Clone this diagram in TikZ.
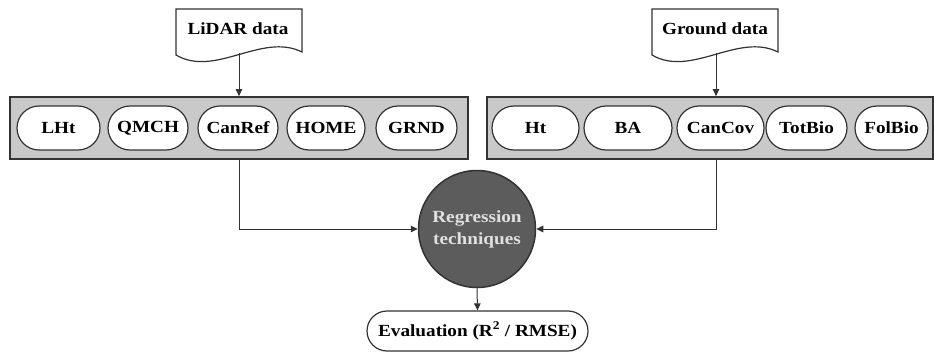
\documentclass[tikz,border=0pt]{standalone}
\usepackage{fontspec}
\setmainfont{Liberation Serif}[FakeStretch=1.13]
\usetikzlibrary{arrows.meta,calc}
\definecolor{panelfill}{HTML}{C9C9C9}
\definecolor{linec}{HTML}{333333}
\definecolor{circfill}{HTML}{5C5C5C}
\begin{document}
\begin{tikzpicture}[x=1pt,y=-1pt,
  every node/.style={font=\fontsize{17}{19}\selectfont\bfseries},
  panel/.style={draw=linec,line width=1.8pt,fill=panelfill,minimum height=62pt,inner sep=0pt},
  pill/.style={draw=linec,line width=1.2pt,fill=white,rounded corners=22pt,minimum height=44pt,inner sep=0pt},
  docbox/.style={draw=linec,line width=1.2pt,fill=white},
  arr/.style={draw=linec,line width=1pt,-{Triangle[length=7pt,width=6.5pt]}},
  conn/.style={draw=linec,line width=1pt}]
\useasboundingbox (0,0) rectangle (934,353);
% documents
\path[docbox] (176,9) -- (302,9) -- (302,52) .. controls (262,32) and (215,78) .. (176,55) -- cycle;
\node (lidar) at (238,29) {LiDAR data};
\coordinate (lidarbot) at (239,53);
\path[docbox] (652,9) -- (778,9) -- (778,52) .. controls (738,32) and (691,78) .. (652,55) -- cycle;
\node (ground) at (715,29) {Ground data};
\coordinate (groundbot) at (716,53);
% panels
\node[panel,minimum width=458pt] (lpanel) at (239,128) {};
\node[panel,minimum width=446pt] (rpanel) at (710,128) {};
% pills left
\node[pill,minimum width=83pt] (lht) at (58.5,128) {LHt};
\node[pill,minimum width=80pt] (qmch) at (148,128) {QMCH};
\node[pill,minimum width=80pt] (canref) at (238,128) {CanRef};
\node[pill,minimum width=78pt] (home) at (326,128) {HOME};
\node[pill,minimum width=81pt] (grnd) at (416.5,128) {GRND};
% pills right
\node[pill,minimum width=87pt] (ht) at (535.5,128) {Ht};
\node[pill,minimum width=88pt] (ba) at (628,128) {BA};
\node[pill,minimum width=87pt] (cancov) at (720.5,128) {CanCov};
\node[pill,minimum width=81pt] (totbio) at (806.5,128) {TotBio};
\node[pill,minimum width=73pt] (folbio) at (891.5,128) {FolBio};
% regression
\node[circle,draw=linec,line width=1.5pt,fill=circfill,minimum size=117pt,inner sep=0pt,
  text=white!88!black,align=center,font=\fontsize{17}{22}\selectfont\bfseries] (reg) at (477,229) {Regression\\techniques};
% evaluation
\node[pill,minimum width=221pt,minimum height=40pt,rounded corners=20pt] (eval) at (477.5,331) {Evaluation (R\textsuperscript{2} / RMSE)};
% connectors
\draw[arr] (lidarbot) -- (lidarbot |- lpanel.north);
\draw[arr] (groundbot) -- (groundbot |- rpanel.north);
\draw[arr] (lidarbot |- lpanel.south) |- (reg.west);
\draw[arr] (groundbot |- rpanel.south) |- (reg.east);
\draw[arr] (reg.south) -- (eval.north);
\end{tikzpicture}
\end{document}
